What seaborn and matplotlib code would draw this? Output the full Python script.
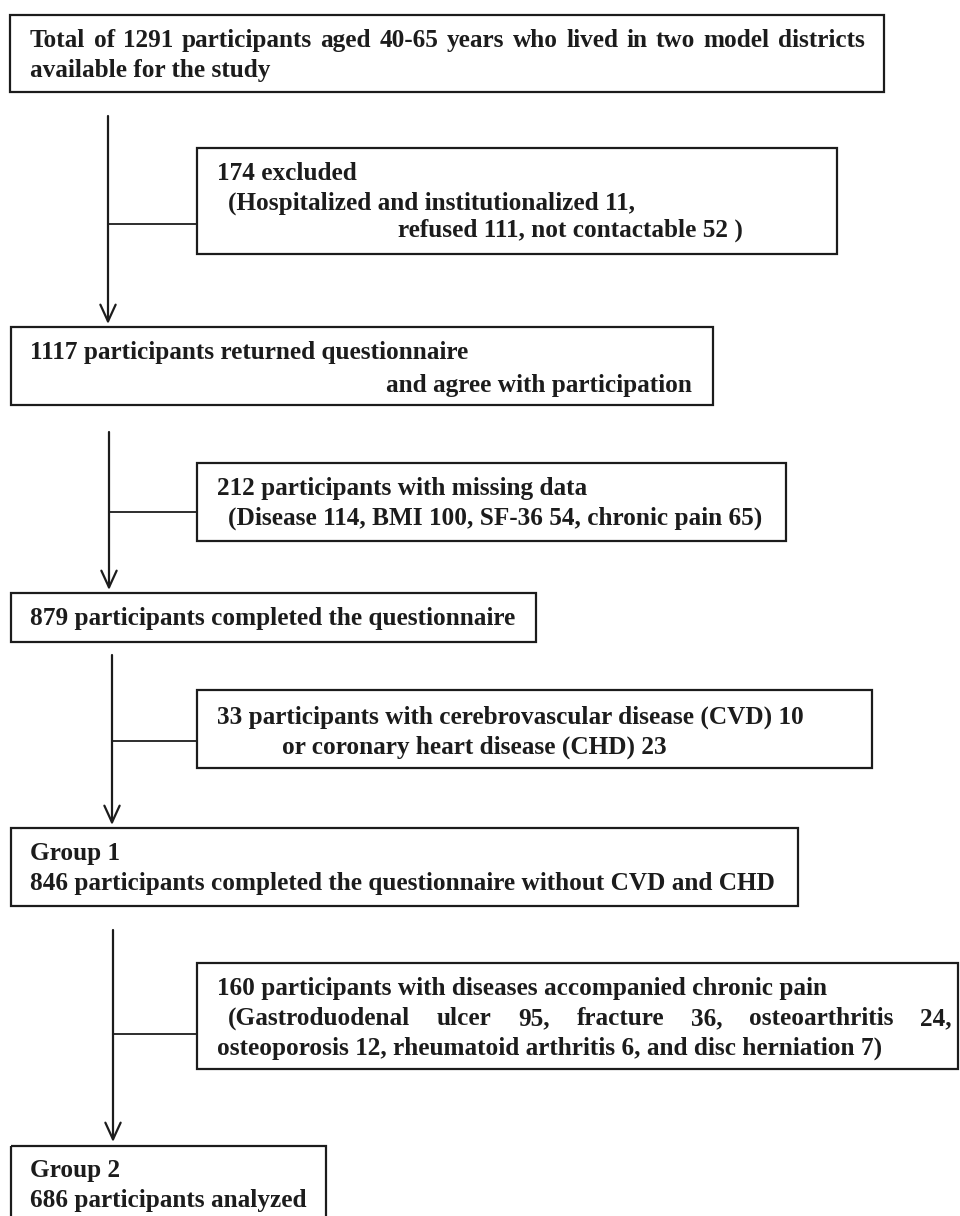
import matplotlib
matplotlib.use('Agg')
import matplotlib.pyplot as plt
import seaborn as sns
from matplotlib.patches import Rectangle

sns.set_theme(style='white')
plt.rcParams['font.family'] = ['Liberation Serif', 'DejaVu Serif']

# flow chart content
main_text = [
    ['Total of 1291 participants aged 40-65 years who lived in two model districts', 'available for the study'],
    ['1117 participants returned questionnaire', 'and agree with participation'],
    ['879 participants completed the questionnaire'],
    ['Group 1', '846 participants completed the questionnaire without CVD and CHD'],
    ['Group 2', '686 participants analyzed'],
]
excl_text = [
    ['174 excluded', '(Hospitalized and institutionalized 11,', 'refused 111, not contactable 52 )'],
    ['212 participants with missing data', '(Disease 114, BMI 100, SF-36 54, chronic pain 65)'],
    ['33 participants with cerebrovascular disease (CVD) 10', 'or coronary heart disease (CHD) 23'],
    ['160 participants with diseases accompanied chronic pain',
     '(Gastroduodenal ulcer 95, fracture 36, osteoarthritis 24,',
     'osteoporosis 12, rheumatoid arthritis 6, and disc herniation 7)'],
]

# layout in pixels (x0, y0, x1, y1)
main_box = [(10, 15, 884, 92), (11, 327, 713, 405), (11, 593, 536, 642), (11, 828, 798, 906), (11, 1146, 326, 1240)]
main_y = [[47, 77], [359, 392], [625], [860, 890], [1177, 1207]]
main_x = [[30, 30], [30, 386], [30], [30, 30], [30, 30]]
excl_box = [(197, 148, 837, 254), (197, 463, 786, 541), (197, 690, 872, 768), (197, 963, 958, 1069)]
excl_y = [[180, 210, 237], [495, 525], [724, 754], [995, 1025, 1055]]
excl_x = [[217, 228, 398], [217, 228], [217, 282], [217, 228, 217]]
spine_x = [108, 109, 112, 113]
spine_y = [(116, 324), (432, 590), (655, 825), (930, 1142)]
branch_y = [224, 512, 741, 1034]

ink = '#1c1c1c'
fs = 18.2

fig = plt.figure(figsize=(9.6, 12.16), dpi=100)
ax = fig.add_axes([0, 0, 1, 1])
ax.set_xlim(0, 960)
ax.set_ylim(1216, 0)
ax.axis('off')

fig.canvas.draw()
renderer = fig.canvas.get_renderer()

def box(b):
    x0, y0, x1, y1 = b
    ax.add_patch(Rectangle((x0, y0), x1 - x0, y1 - y0, fill=False, ec=ink, lw=1.6))

def justify(t, x0, x1, y):
    # spread the words over the full width, like the original justified lines
    words = t.split(' ')
    arts = [ax.text(0, y, w, fontsize=fs, fontweight='bold', color=ink, va='baseline') for w in words]
    widths = []
    inv = ax.transData.inverted()
    for a in arts:
        bb = a.get_window_extent(renderer)
        p0 = inv.transform((bb.x0, bb.y0))
        p1 = inv.transform((bb.x1, bb.y0))
        widths.append(p1[0] - p0[0])
    gap = (x1 - x0 - sum(widths)) / (len(words) - 1)
    x = x0
    for a, w in zip(arts, widths):
        a.set_x(x)
        x += w + gap

for i, (b, lines, ys, xs) in enumerate(zip(main_box, main_text, main_y, main_x)):
    box(b)
    for j, (t, y, x) in enumerate(zip(lines, ys, xs)):
        if i == 0 and j == 0:
            justify(t, x, 865, y)
        else:
            ax.text(x, y, t, fontsize=fs, fontweight='bold', color=ink, va='baseline', ha='left')

for i, (b, lines, ys, xs) in enumerate(zip(excl_box, excl_text, excl_y, excl_x)):
    box(b)
    for j, (t, y, x) in enumerate(zip(lines, ys, xs)):
        if i == 3 and j == 1:
            justify(t, x, b[2] - 6, y)
        else:
            ax.text(x, y, t, fontsize=fs, fontweight='bold', color=ink, va='baseline', ha='left')

for x, (ya, yb), yc, b in zip(spine_x, spine_y, branch_y, excl_box):
    ax.annotate('', xy=(x, yb), xytext=(x, ya),
                arrowprops=dict(arrowstyle='->,head_length=1.2,head_width=0.55', lw=1.6,
                                color=ink, shrinkA=0, shrinkB=0, mutation_scale=10))
    ax.plot([x, b[0]], [yc, yc], color=ink, lw=1.3)

fig.savefig('out.png', dpi=100)
